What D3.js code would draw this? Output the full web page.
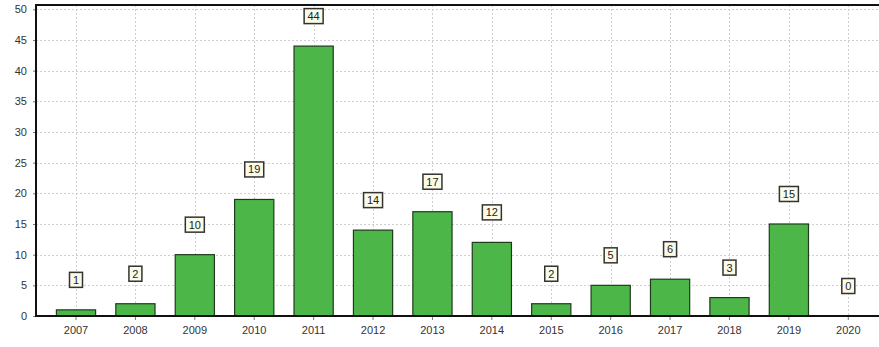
<!DOCTYPE html>
<html>
<head>
<meta charset="utf-8">
<script src="https://cdn.jsdelivr.net/npm/d3@7"></script>
<style>
  body { margin: 0; background: #fff; }
  svg { display: block; font-family: "Liberation Sans", Arial, sans-serif; }
</style>
</head>
<body>
<div id="chart"></div>
<script>
// --------------------
// DATA
// --------------------
const years = ["2007", "2008", "2009", "2010", "2011", "2012", "2013",
  "2014", "2015", "2016", "2017", "2018", "2019", "2020"];
const counts = [1, 2, 10, 19, 44, 14, 17, 12, 2, 5, 6, 3, 15, 0];
const yTicks = [0, 5, 10, 15, 20, 25, 30, 35, 40, 45, 50];

const data = years.map((y, i) => ({ year: y, value: counts[i] }));

// --------------------
// LAYOUT
// --------------------
const width = 879;
const height = 347;
const plotLeft = 36;
const plotTop = 5;
const plotBottom = 316;

const svg = d3.select("#chart")
  .append("svg")
  .attr("width", width)
  .attr("height", height);

const x = d3.scaleBand()
  .domain(years)
  .range([46.3, 878])
  .paddingInner(0.34)
  .paddingOuter(0.17);

const y = d3.scaleLinear()
  .domain([0, 50.7])
  .range([plotBottom, plotTop]);

// Grid
svg.append("g")
  .selectAll("line")
  .data(yTicks.slice(1))
  .join("line")
  .attr("x1", plotLeft)
  .attr("x2", width)
  .attr("y1", d => Math.round(y(d)) + 0.5)
  .attr("y2", d => Math.round(y(d)) + 0.5)
  .attr("stroke", "#cfcfcf")
  .attr("stroke-dasharray", "2,2");

svg.append("g")
  .selectAll("line")
  .data(years)
  .join("line")
  .attr("x1", d => Math.round(x(d) + x.bandwidth() / 2) + 0.5)
  .attr("x2", d => Math.round(x(d) + x.bandwidth() / 2) + 0.5)
  .attr("y1", plotTop)
  .attr("y2", plotBottom)
  .attr("stroke", "#cfcfcf")
  .attr("stroke-dasharray", "2,2");

// Bars
svg.append("g")
  .selectAll("rect")
  .data(data.filter(d => d.value > 0))
  .join("rect")
  .attr("x", d => x(d.year))
  .attr("y", d => y(d.value))
  .attr("width", x.bandwidth())
  .attr("height", d => y(0) - y(d.value))
  .attr("fill", "#4cb748")
  .attr("stroke", "#1f3a1d")
  .attr("stroke-width", 1.2);

// Axes
const xAxis = svg.append("g")
  .attr("transform", `translate(0,${plotBottom})`)
  .call(d3.axisBottom(x).tickSize(4).tickPadding(6));
xAxis.select(".domain").remove();
xAxis.selectAll("line").attr("stroke", "#777");
xAxis.selectAll("text").attr("fill", "#333").style("font-size", "11px");

const yAxis = svg.append("g")
  .attr("transform", `translate(${plotLeft},0)`)
  .call(d3.axisLeft(y).tickValues(yTicks).tickSize(3).tickPadding(6));
yAxis.select(".domain").remove();
yAxis.selectAll("line").attr("stroke", "#777");
yAxis.selectAll("text").attr("fill", "#333").style("font-size", "11px");

// Frame lines
svg.append("line")
  .attr("x1", plotLeft).attr("x2", width)
  .attr("y1", plotBottom).attr("y2", plotBottom)
  .attr("stroke", "#111").attr("stroke-width", 2);
svg.append("line")
  .attr("x1", plotLeft).attr("x2", width)
  .attr("y1", plotTop).attr("y2", plotTop)
  .attr("stroke", "#111").attr("stroke-width", 2);
svg.append("line")
  .attr("x1", plotLeft).attr("x2", plotLeft)
  .attr("y1", plotTop - 1).attr("y2", plotBottom + 1)
  .attr("stroke", "#111").attr("stroke-width", 2);

// --------------------
// VALUE LABELS
// --------------------
const labels = svg.append("g")
  .selectAll("g")
  .data(data)
  .join("g")
  .attr("transform", d =>
    `translate(${x(d.year) + x.bandwidth() / 2},${y(d.value) - 30})`);

labels.append("rect")
  .attr("x", d => d.value >= 10 ? -9.5 : -6.5)
  .attr("y", -7.5)
  .attr("width", d => d.value >= 10 ? 19 : 13)
  .attr("height", 15)
  .attr("fill", "#fbfbe8")
  .attr("stroke", "#333")
  .attr("stroke-width", 1.5);

labels.append("text")
  .attr("text-anchor", "middle")
  .attr("dy", "0.36em")
  .attr("fill", "#222")
  .style("font-size", "11px")
  .text(d => d.value);
</script>
</body>
</html>
